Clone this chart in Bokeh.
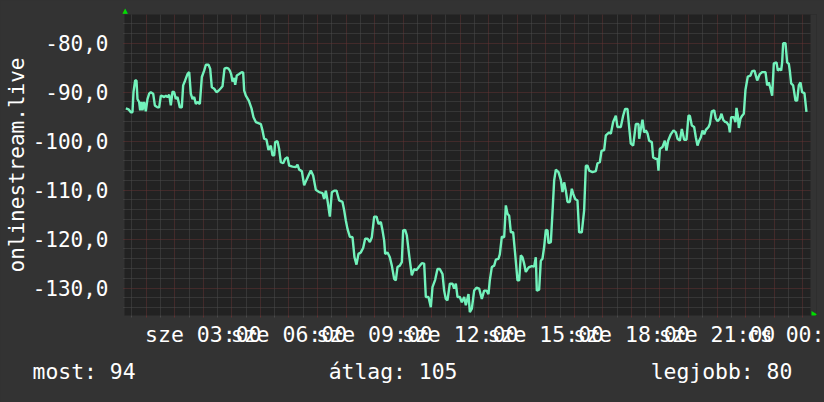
import math
from bokeh.plotting import figure
from bokeh.models import Range1d, FixedTicker, AllLabels, GlobalInlineStyleSheet, Title
from bokeh.embed import file_html
from bokeh.resources import INLINE

# ---- data (minutes since midnight, signal level) ----
minutes = [
    17.1, 22.7, 27.6, 31.1, 33.2, 36.7, 39.5, 41.6, 45.1, 47.2,
    50.0, 52.1, 55.6, 59.1, 62.6, 66.2, 69.6, 74.6, 78.1, 83.7,
    87.2, 90.7, 94.2, 97.7, 101.2, 104.7, 108.2, 111.7, 115.2, 118.7,
    122.2, 125.7, 130.6, 134.8, 137.6, 141.8, 146.7, 150.3, 153.7, 157.3,
    160.8, 164.3, 167.8, 172.7, 176.9, 181.8, 185.3, 190.9, 194.4, 197.9,
    202.8, 207.7, 211.9, 216.8, 220.3, 224.5, 228.7, 232.9, 235.7, 238.5,
    241.3, 244.9, 247.0, 250.4, 255.4, 260.9, 263.8, 265.9, 269.4, 275.6,
    281.3, 285.5, 290.4, 300.9, 304.4, 307.9, 312.8, 317.0, 321.9, 325.4,
    329.0, 331.0, 335.9, 339.4, 342.9, 347.9, 352.1, 357.0, 360.5, 367.5,
    374.5, 378.0, 381.5, 387.1, 392.0, 396.9, 401.1, 406.0, 410.9, 416.5,
    423.5, 430.6, 434.1, 437.6, 441.1, 446.0, 450.2, 455.1, 460.0, 465.6,
    472.6, 476.1, 479.6, 483.1, 488.0, 493.6, 497.8, 502.0, 506.2, 511.1,
    516.0, 520.2, 525.2, 530.1, 534.3, 539.2, 544.1, 548.3, 553.2, 556.7,
    560.2, 562.3, 567.2, 572.1, 576.3, 581.2, 584.7, 588.2, 593.1, 597.3,
    600.1, 604.3, 607.8, 612.8, 618.3, 623.3, 628.2, 633.8, 639.4, 644.3,
    647.8, 653.4, 658.3, 661.8, 667.4, 672.3, 677.2, 682.8, 686.3, 689.8,
    693.3, 698.2, 703.9, 707.4, 710.9, 714.4, 719.3, 723.5, 728.4, 731.9,
    737.5, 740.3, 744.5, 749.4, 754.3, 759.9, 765.5, 770.4, 775.3, 779.5,
    782.3, 786.5, 791.5, 794.9, 800.5, 803.3, 807.6, 812.5, 816.0, 819.5,
    823.0, 826.5, 831.4, 835.6, 840.5, 844.0, 847.5, 851.0, 854.5, 858.0,
    861.5, 865.0, 870.6, 875.5, 879.0, 881.1, 886.0, 889.5, 893.0, 896.5,
    900.1, 903.6, 905.7, 910.6, 914.1, 917.6, 921.1, 926.7, 931.6, 935.1,
    938.6, 942.1, 945.6, 950.5, 954.7, 957.5, 961.7, 966.6, 970.1, 975.7,
    980.6, 984.2, 987.7, 991.2, 998.2, 1005.2, 1008.7, 1013.6, 1017.1, 1022.7,
    1026.2, 1033.2, 1036.7, 1041.6, 1047.2, 1050.7, 1057.7, 1062.6, 1066.8, 1071.7,
    1075.2, 1078.7, 1083.7, 1089.3, 1094.9, 1096.3, 1099.8, 1103.3, 1106.8, 1110.3,
    1113.8, 1117.3, 1122.9, 1125.7, 1131.3, 1134.8, 1136.9, 1139.7, 1145.3, 1150.2,
    1153.7, 1157.2, 1162.8, 1168.5, 1173.4, 1176.9, 1181.8, 1186.0, 1190.9, 1195.8,
    1200.0, 1202.8, 1207.0, 1211.9, 1215.4, 1218.9, 1222.4, 1225.9, 1229.4, 1233.0,
    1236.5, 1242.1, 1244.8, 1249.0, 1254.0, 1257.4, 1261.0, 1265.9, 1269.4, 1272.9,
    1277.1, 1279.9, 1284.8, 1286.9, 1289.7, 1295.3, 1298.8, 1300.9, 1303.7, 1305.8,
    1309.3, 1312.8, 1316.3, 1319.8, 1324.7, 1330.3, 1333.8, 1338.7, 1344.4, 1349.9,
    1354.8, 1361.9, 1365.4, 1368.9, 1372.4, 1375.9, 1379.4, 1385.0, 1387.8, 1392.0,
    1394.8, 1396.9, 1399.0, 1403.9, 1407.4, 1410.9, 1413.0, 1415.8, 1420.0, 1424.9,
    1428.4, 1431.9, 1435.4, 1438.9, 1443.8, 1448.0,
]
values = [
    -93.3, -93.5, -94.1, -94.1, -90.0, -87.6, -87.6, -91.4, -92.0, -93.7,
    -92.0, -93.7, -92.0, -93.9, -91.4, -90.3, -90.0, -90.3, -92.7, -93.1,
    -93.1, -90.7, -90.8, -91.0, -90.7, -91.0, -90.5, -92.7, -89.9, -90.0,
    -91.4, -91.0, -93.1, -93.1, -88.6, -87.6, -86.3, -85.9, -90.3, -91.4,
    -91.0, -92.4, -92.0, -92.4, -86.9, -85.6, -84.4, -84.4, -85.2, -89.0,
    -89.3, -90.0, -89.7, -89.2, -88.8, -85.2, -85.0, -85.2, -85.6, -86.3,
    -87.8, -87.1, -88.5, -86.6, -86.3, -85.9, -86.0, -89.7, -90.7, -91.7,
    -93.3, -95.1, -96.1, -96.5, -97.8, -99.5, -99.7, -101.8, -100.9, -102.9,
    -102.9, -100.2, -100.0, -101.6, -104.3, -104.5, -103.6, -103.3, -105.0, -105.2,
    -105.3, -104.8, -105.8, -106.1, -109.0, -107.9, -107.0, -106.0, -107.0, -109.9,
    -110.4, -110.6, -111.8, -110.1, -112.1, -115.4, -110.4, -110.1, -110.1, -112.1,
    -112.4, -114.1, -116.2, -117.9, -119.5, -119.6, -123.7, -125.2, -123.0, -122.7,
    -121.8, -119.9, -119.9, -120.6, -119.6, -115.4, -115.4, -116.9, -116.5, -118.2,
    -120.3, -123.0, -122.7, -123.7, -125.4, -128.1, -128.4, -125.7, -125.4, -124.7,
    -118.2, -118.1, -119.2, -123.3, -127.4, -126.1, -126.3, -125.6, -124.9, -125.0,
    -131.8, -131.8, -133.9, -129.8, -128.3, -126.1, -126.1, -127.1, -130.5, -132.2,
    -132.5, -129.1, -129.1, -130.1, -129.1, -131.8, -131.8, -132.9, -131.8, -133.5,
    -131.2, -134.9, -134.2, -130.5, -129.9, -130.1, -132.2, -130.5, -130.5, -131.2,
    -128.4, -125.7, -125.4, -124.2, -124.0, -123.1, -119.5, -119.6, -113.1, -114.8,
    -115.2, -118.6, -118.6, -123.0, -128.4, -128.4, -123.3, -123.7, -125.0, -126.7,
    -126.1, -125.7, -125.5, -125.6, -123.7, -130.5, -130.3, -124.4, -124.0, -121.6,
    -118.1, -118.2, -120.8, -120.6, -114.5, -108.0, -105.8, -106.3, -107.9, -110.4,
    -108.4, -110.1, -112.4, -112.4, -109.7, -110.7, -111.8, -112.1, -118.6, -118.6,
    -114.1, -105.0, -105.0, -106.0, -106.3, -106.1, -104.5, -104.3, -102.0, -101.8,
    -98.8, -98.2, -98.5, -96.1, -94.8, -97.1, -97.1, -94.8, -93.4, -93.4,
    -97.1, -100.5, -100.9, -96.5, -96.5, -99.5, -97.5, -95.6, -98.2, -97.8,
    -98.4, -99.9, -100.2, -103.3, -103.6, -103.6, -106.0, -101.6, -101.2, -99.9,
    -101.9, -99.9, -98.6, -97.8, -98.2, -99.5, -99.9, -97.5, -99.7, -99.7,
    -94.8, -94.8, -96.8, -97.1, -99.2, -100.9, -99.9, -99.2, -97.8, -98.6,
    -97.7, -97.1, -96.5, -93.9, -93.7, -95.4, -95.9, -95.4, -94.4, -95.6,
    -96.1, -96.1, -96.8, -98.2, -95.1, -95.1, -96.1, -93.2, -94.8, -97.3,
    -95.4, -94.8, -94.4, -89.5, -86.8, -86.6, -85.7, -85.6, -87.6, -86.3,
    -85.9, -85.9, -88.6, -88.0, -89.3, -90.7, -84.1, -83.9, -85.6, -85.2,
    -85.6, -83.9, -80.0, -80.0, -83.9, -84.2, -85.6, -88.2, -88.6, -91.7,
    -91.7, -88.6, -88.0, -90.0, -90.2, -94.0,
]

y_ticks = [-130, -120, -110, -100, -90, -80]
y_tick_labels = ["-130,0", "-120,0", "-110,0", "-100,0", "-90,0", "-80,0"]
x_label_hours = [3, 6, 9, 12, 15, 18, 21, 24]
# the last label is cut by the right edge of the image
x_tick_labels = ["sze 03:00", "sze 06:00", "sze 09:00", "sze 12:00",
                 "sze 15:00", "sze 18:00", "sze 21:00", "cs 00:"]
series_name = "onlinestream.live"
legend_texts = ["most: 94", "átlag: 105", "legjobb: 80"]

# ---- style ----
BG = "#333333"
PLOT_BG = "#222222"
LINE = "#72f2bb"
MAJOR = "#623232"
MINOR = "#4a4a4a"
ARROW = "#00dd00"
FONT = "DejaVu Sans Mono"
TXT = "#ffffff"

hours = [m / 60.0 for m in minutes]

# plot geometry (time axis: 0:00 at pixel 117.2, 28.54 px per hour)
T_LEFT, T_RIGHT = 0.2383, 24.4851     # frame spans px 124..816
T_PLOT_END = 24.275                   # dark plot area ends at px 810
Y_MIN, Y_MAX = -135.58, -74.14

p = figure(width=824, height=402, output_backend="svg", toolbar_location=None,
           x_range=Range1d(T_LEFT, T_RIGHT), y_range=Range1d(Y_MIN, Y_MAX),
           min_border_left=124, min_border_right=8, min_border_top=14,
           min_border_bottom=87, background_fill_color=PLOT_BG,
           border_fill_color=BG, outline_line_color=None)
p.stylesheets = [GlobalInlineStyleSheet(
    css="html, body { background-color: #333333; margin: 0; padding: 0; overflow: hidden; }")]

all_hours = list(range(0, 25))
half_hours = [h + 0.5 for h in range(0, 24)]
p.xgrid.ticker = FixedTicker(ticks=all_hours, minor_ticks=half_hours)
y_minor = [v for v in range(-136, -72, 2) if v % 10 != 0]
p.ygrid.ticker = FixedTicker(ticks=y_ticks, minor_ticks=y_minor)
for g in (p.xgrid[0], p.ygrid[0]):
    g.grid_line_color = MAJOR
    g.grid_line_dash = "1 1"
    g.grid_line_width = 1
    g.minor_grid_line_color = MINOR
    g.minor_grid_line_dash = "1 1"
    g.minor_grid_line_width = 1

# x axis
p.xaxis.ticker = FixedTicker(ticks=all_hours, minor_ticks=half_hours)
overrides = {h: "" for h in all_hours}
for h, lab in zip(x_label_hours, x_tick_labels):
    overrides[h] = lab
p.xaxis.major_label_overrides = overrides
p.xaxis.major_label_policy = AllLabels()
p.xaxis.axis_line_color = None
p.xaxis.major_tick_line_color = MAJOR
p.xaxis.major_tick_out = 2
p.xaxis.major_tick_in = 0
p.xaxis.minor_tick_line_color = MINOR
p.xaxis.minor_tick_out = 2
p.xaxis.minor_tick_in = 0
p.xaxis.major_label_standoff = 4
p.xaxis.major_label_text_font = FONT
p.xaxis.major_label_text_font_size = "21.5px"
p.xaxis.major_label_text_color = TXT

# y axis
p.yaxis.ticker = FixedTicker(ticks=y_ticks, minor_ticks=y_minor)
p.yaxis.major_label_overrides = dict(zip(y_ticks, y_tick_labels))
p.yaxis.axis_line_color = None
p.yaxis.major_tick_line_color = MAJOR
p.yaxis.major_tick_out = 1
p.yaxis.major_tick_in = 0
p.yaxis.minor_tick_line_color = MINOR
p.yaxis.minor_tick_out = 1
p.yaxis.minor_tick_in = 0
p.yaxis.major_label_standoff = 15
p.yaxis.major_label_text_font = FONT
p.yaxis.major_label_text_font_size = "21px"
p.yaxis.major_label_text_color = TXT

# series name, rotated, at the far left
p.add_layout(Title(text=series_name, align="center", vertical_align="top",
                   standoff=-2, text_font=FONT, text_font_size="21px",
                   text_font_style="normal", text_color=TXT), "left")

# strip right of the plot area (carries the x-axis arrow)
p.quad(left=[T_PLOT_END], right=[T_RIGHT + 1], bottom=[Y_MIN - 5], top=[Y_MAX + 5],
       fill_color=BG, line_color=None)

# series
p.line(hours, values, line_color=LINE, line_width=2.4)

# x-axis arrow
p.scatter([24.38], [-135.4], marker="triangle", angle=-math.pi / 2, size=7,
          color=ARROW, line_width=0)

# y-axis arrow (above the plot area)
p.add_layout(Title(text="▲", align="left", offset=-2, standoff=0,
                   text_font="DejaVu Sans", text_font_size="7px",
                   text_font_style="normal", text_color=ARROW), "above")

# summary line under the chart (monospace columns)
gap = "\u00a0" * 15
legend_line = legend_texts[0] + gap + legend_texts[1] + gap + legend_texts[2]
p.add_layout(Title(text=legend_line, align="left", offset=-92, standoff=15,
                   text_font=FONT, text_font_size="21.4px",
                   text_font_style="normal", text_color=TXT), "below")

open("out.html", "w").write(file_html(p, INLINE))
